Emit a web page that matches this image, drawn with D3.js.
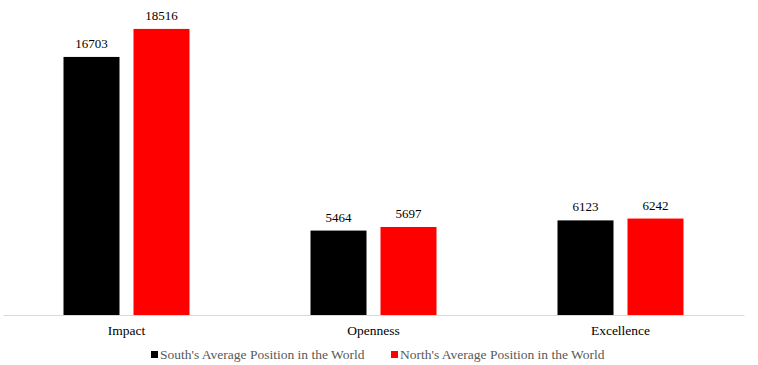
<!DOCTYPE html>
<html>
<head>
<meta charset="utf-8">
<script src="https://cdn.jsdelivr.net/npm/d3@7"></script>
<style>
  body { margin: 0; background: #fff; }
  text { font-family: "Liberation Serif", "DejaVu Serif", serif; }
</style>
</head>
<body>
<svg width="758" height="365"></svg>
<script>
const categories = ['Impact', 'Openness', 'Excellence'];
const seriesNames = ["South's Average Position in the World", "North's Average Position in the World"];
const south = [16703, 5464, 6123];
const north = [18516, 5697, 6242];
const colors = ['#000000', '#ff0000'];

const svg = d3.select('svg');
const plotLeft = 3, plotRight = 744, plotBase = 315, plotTop = 6;

const x = d3.scaleBand().domain(categories).range([plotLeft, plotRight]);
const sub = d3.scaleBand().domain([0, 1]).range([-63, 63]).paddingInner(0.2);
const y = d3.scaleLinear().domain([0, 20000]).range([plotBase, plotTop]);

const data = [];
categories.forEach((c, i) => {
    data.push({cat: c, s: 0, v: south[i]});
    data.push({cat: c, s: 1, v: north[i]});
});

svg.selectAll('rect.bar')
    .data(data)
    .enter()
    .append('rect')
    .attr('class', 'bar')
    .attr('x', (d) => x(d.cat) + x.bandwidth() / 2 + sub(d.s))
    .attr('width', sub.bandwidth())
    .attr('y', (d) => y(d.v))
    .attr('height', (d) => plotBase - y(d.v))
    .style('fill', (d) => colors[d.s]);

svg.selectAll('text.val')
    .data(data)
    .enter()
    .append('text')
    .attr('class', 'val')
    .attr('x', (d) => x(d.cat) + x.bandwidth() / 2 + sub(d.s) + sub.bandwidth() / 2)
    .attr('y', (d) => y(d.v) - 9)
    .attr('text-anchor', 'middle')
    .style('font-size', '13px')
    .style('fill', '#000')
    .text((d) => d.v);

// axis
const axis = svg.append('g').attr('transform', `translate(0,${plotBase})`)
    .call(d3.axisBottom(x).tickSize(0).tickPadding(10));
axis.select('.domain').attr('stroke', '#d9d9d9').attr('stroke-width', 1);
axis.selectAll('text')
    .style('font-family', '"Liberation Serif", serif')
    .style('font-size', '13.5px')
    .style('fill', '#000');

// legend
const legend = svg.append('g');
const legendX = [151, 391];
seriesNames.forEach((n, i) => {
    legend.append('rect')
        .attr('x', legendX[i])
        .attr('y', 351)
        .attr('width', 7)
        .attr('height', 7)
        .style('fill', colors[i]);
    legend.append('text')
        .attr('x', legendX[i] + 9)
        .attr('y', 359)
        .style('font-size', '13.5px')
        .style('fill', '#595959')
        .text(n);
});
</script>
</body>
</html>
